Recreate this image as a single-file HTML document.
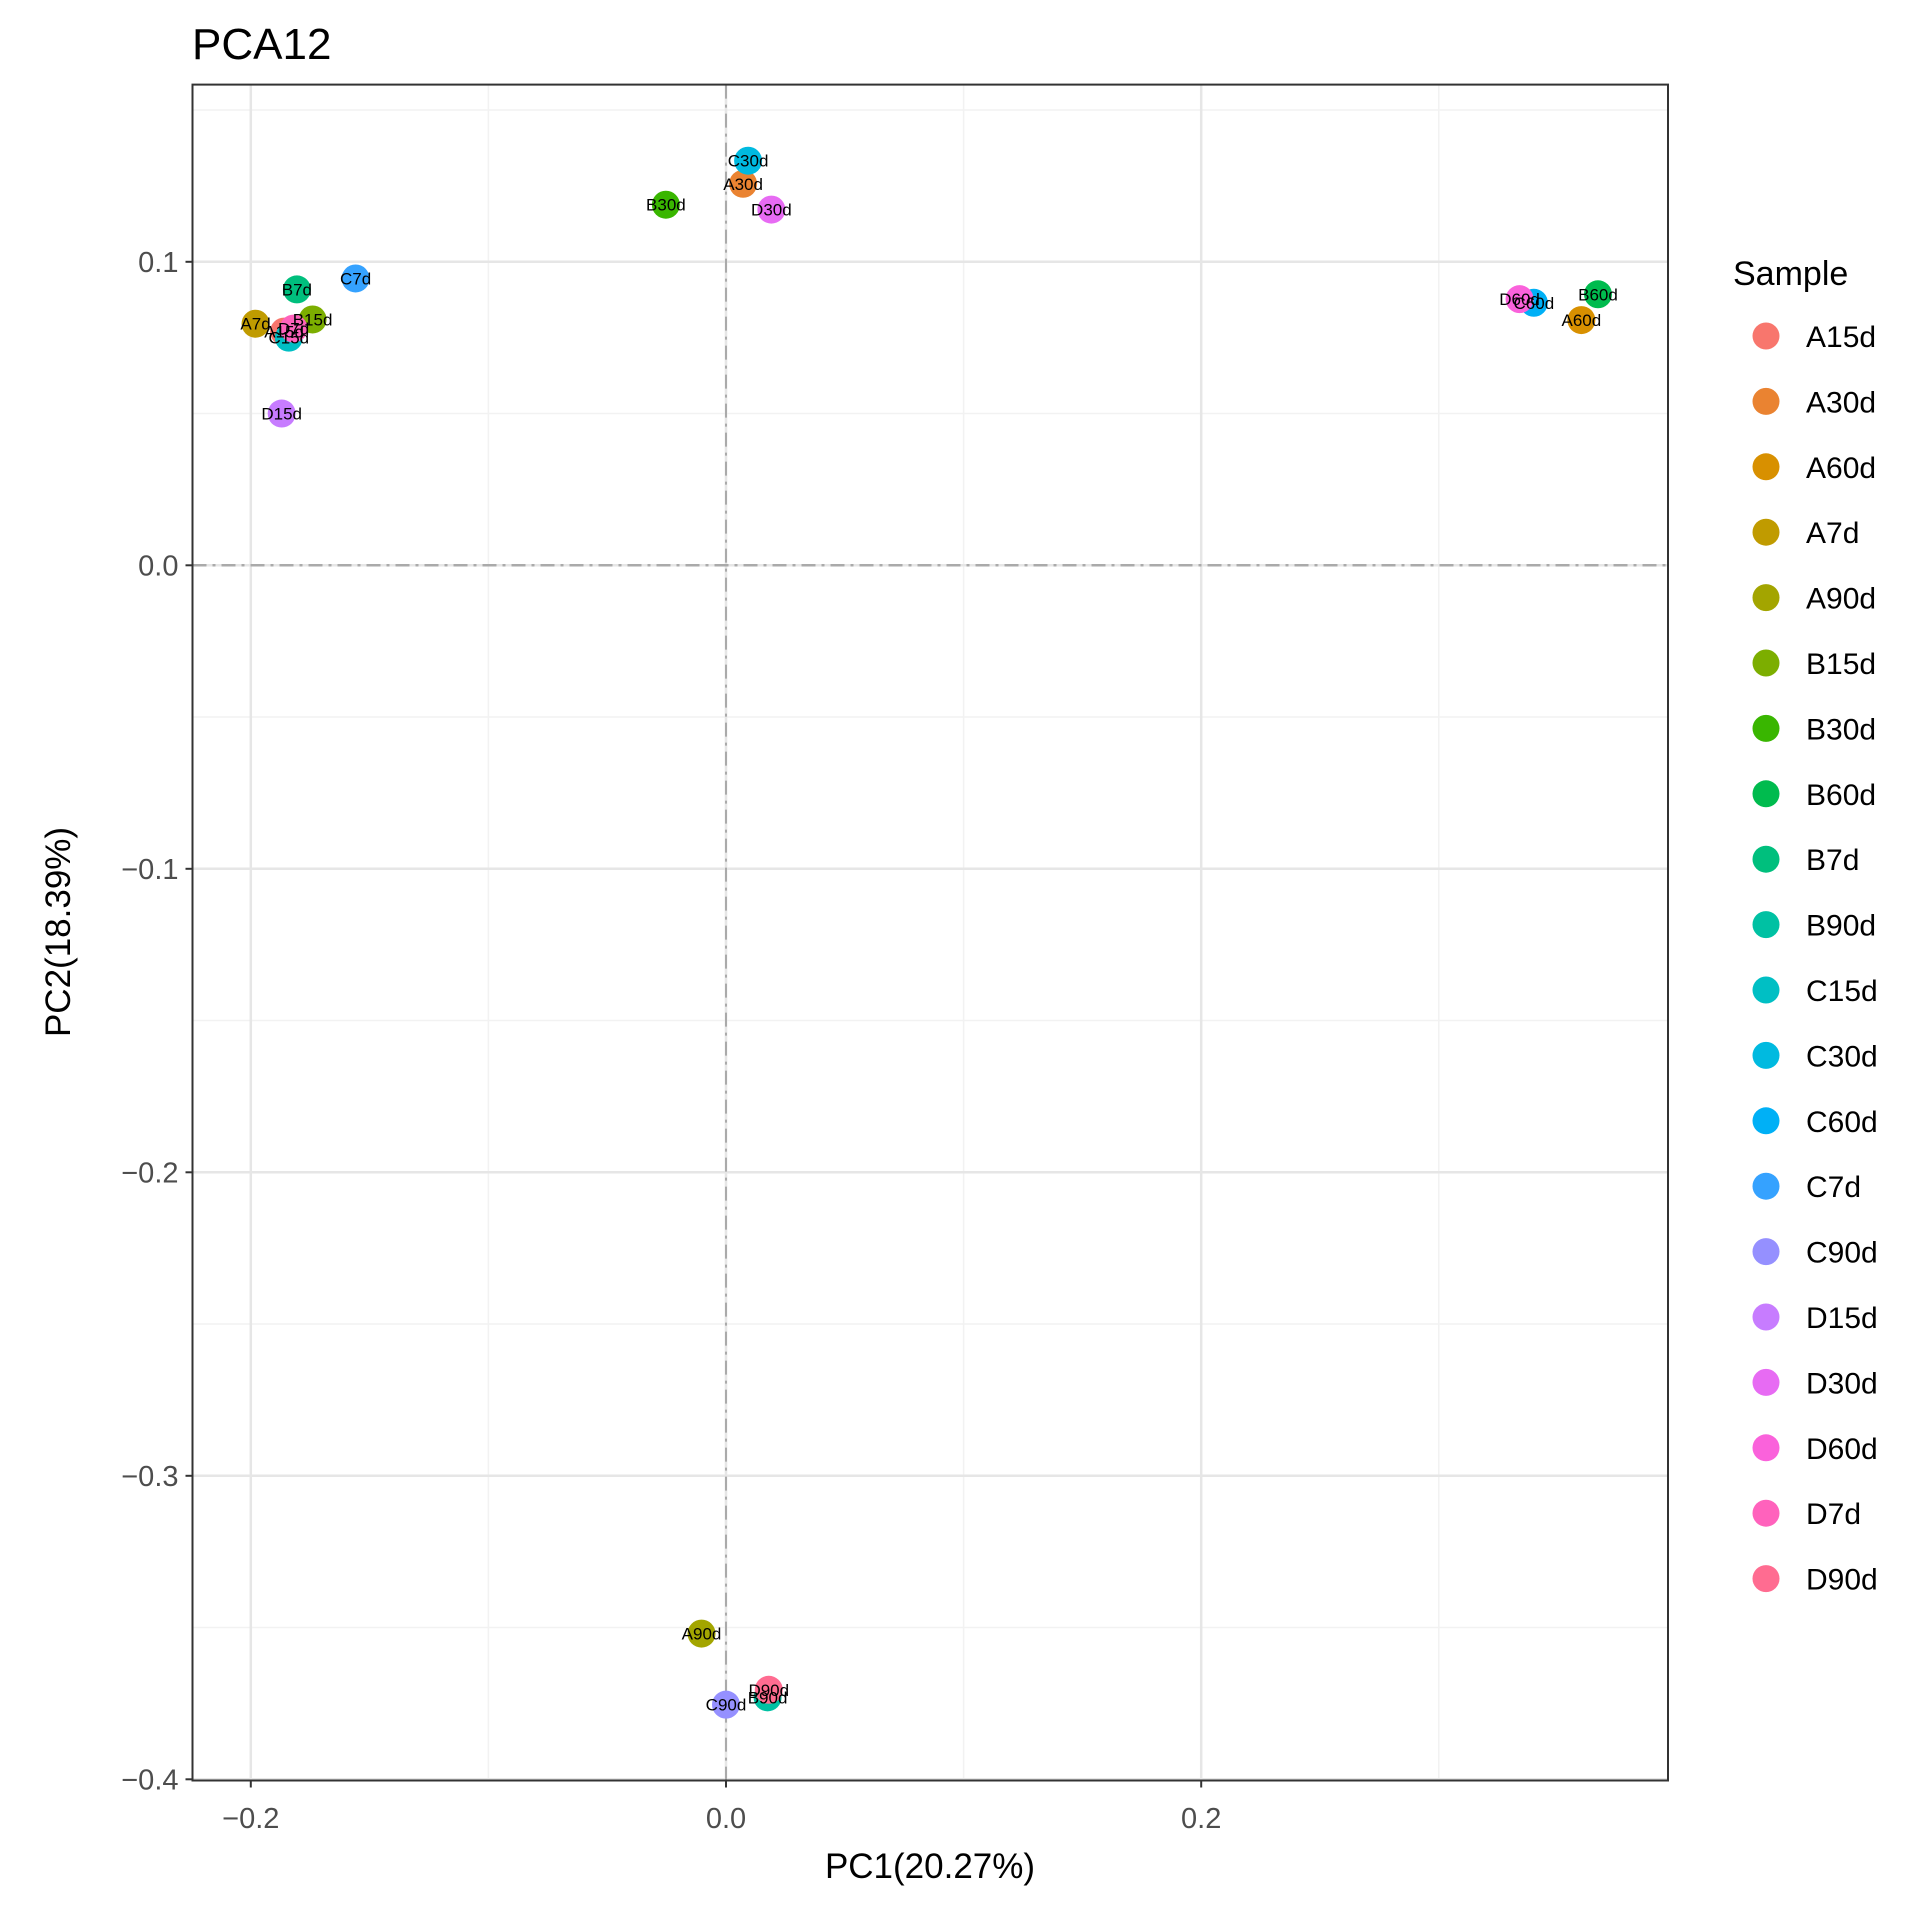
<!DOCTYPE html>
<html><head><meta charset="utf-8"><style>
html,body{margin:0;padding:0;background:#fff;}
svg{display:block;font-family:"Liberation Sans",Arial,sans-serif;}
</style></head><body>
<svg id="chart" width="1913" height="1925" xmlns="http://www.w3.org/2000/svg"></svg>
<script>
const samples=["A15d","A30d","A60d","A7d","A90d","B15d","B30d","B60d","B7d","B90d","C15d","C30d","C60d","C7d","C90d","D15d","D30d","D60d","D7d","D90d"];
const pc1=[-0.186,0.0072,0.360,-0.198,-0.0103,-0.174,-0.0253,0.367,-0.1806,0.0175,-0.184,0.0093,0.340,-0.1559,0.0,-0.187,0.0191,0.334,-0.182,0.018];
const pc2=[0.077,0.1257,0.0808,0.0796,-0.352,0.081,0.1188,0.0893,0.0909,-0.373,0.075,0.1333,0.0865,0.0945,-0.3754,0.050,0.1172,0.0877,0.078,-0.3705];
const colors=["#F8766D","#EA8331","#D89000","#C09B00","#A3A500","#7CAE00","#39B600","#00BB4E","#00BF7D","#00C1A3","#00BFC4","#00BAE0","#00B0F6","#35A2FF","#9590FF","#C77CFF","#E76BF3","#FA62DB","#FF62BC","#FF6C91"];
const xTicks=[-0.2,0.0,0.2];
const yTicks=[0.1,0.0,-0.1,-0.2,-0.3,-0.4];
const xMinor=[-0.1,0.1,0.3];
const yMinor=[0.15,0.05,-0.05,-0.15,-0.25,-0.35];

const NS="http://www.w3.org/2000/svg";
const svg=document.getElementById('chart');
const L=192.5,R=1668,T=84.6,B=1780.5;
const xs=v=>726+v*2376;
const ys=v=>565.3-v*3035;
function mk(tag,at,parent){const e=document.createElementNS(NS,tag);for(const k in at)e.setAttribute(k,at[k]);(parent||svg).appendChild(e);return e;}
function fmt(v){return (v<0?"\u2212":"")+Math.abs(v).toFixed(1);}

let t=mk('text',{x:192,y:59,'font-size':44,fill:'#000'});t.textContent="PCA12";



let bg=mk('rect',{x:L,y:T,width:R-L,height:B-T,fill:'#fff'});



xMinor.forEach(v=>{let g=mk('line',{x1:xs(v),x2:xs(v),y1:T,y2:B,stroke:'#f2f2f2','stroke-width':1.5});

});
yMinor.forEach(v=>{let g=mk('line',{x1:L,x2:R,y1:ys(v),y2:ys(v),stroke:'#f2f2f2','stroke-width':1.5});

});
xTicks.forEach(v=>{let g=mk('line',{x1:xs(v),x2:xs(v),y1:T,y2:B,stroke:'#e6e6e6','stroke-width':2.5});


let tk=mk('line',{x1:xs(v),x2:xs(v),y1:B,y2:B+7,stroke:'#333','stroke-width':2});


let tl=mk('text',{x:xs(v),y:1828,'font-size':29,fill:'#4d4d4d','text-anchor':'middle'});tl.textContent=fmt(v);

});
yTicks.forEach(v=>{let g=mk('line',{x1:L,x2:R,y1:ys(v),y2:ys(v),stroke:'#e6e6e6','stroke-width':2.5});


let tk=mk('line',{x1:L-7,x2:L,y1:ys(v),y2:ys(v),stroke:'#333','stroke-width':2});


let tl=mk('text',{x:L-14,y:ys(v)+10,'font-size':29,fill:'#4d4d4d','text-anchor':'end'});tl.textContent=fmt(v);

});

let rx=mk('line',{x1:xs(0),x2:xs(0),y1:T,y2:B,stroke:'#aaa','stroke-width':2,'stroke-dasharray':'14 6 3 6'});


let ry=mk('line',{x1:L,x2:R,y1:ys(0),y2:ys(0),stroke:'#aaa','stroke-width':2.5,'stroke-dasharray':'14 6 3 6'});



samples.forEach((s,i)=>{
 let c=mk('circle',{cx:xs(pc1[i]),cy:ys(pc2[i]),r:14,fill:colors[i]});
 
 
});
samples.forEach((s,i)=>{
 let l=mk('text',{x:xs(pc1[i]),y:ys(pc2[i])+6,'font-size':17,fill:'#000','text-anchor':'middle'});l.textContent=s;
 
 
});

let bd=mk('rect',{x:L,y:T,width:R-L,height:B-T,fill:'none',stroke:'#333','stroke-width':2});



let xt=mk('text',{x:930,y:1878,'font-size':35,fill:'#000','text-anchor':'middle'});xt.textContent="PC1(20.27%)";


let yt=mk('text',{x:0,y:0,'font-size':35,fill:'#000','text-anchor':'middle',transform:'translate(70,932) rotate(-90)'});yt.textContent="PC2(18.39%)";



let lt=mk('text',{x:1733,y:285,'font-size':34,fill:'#000'});lt.textContent="Sample";


samples.forEach((s,i)=>{
 const y=336+65.4*i;
 let d=mk('circle',{cx:1766,cy:y,r:13.5,fill:colors[i]});
 
 
 let tx=mk('text',{x:1806,y:y+11,'font-size':30,fill:'#000'});tx.textContent=s;
 
 
});
</script>
</body></html>
